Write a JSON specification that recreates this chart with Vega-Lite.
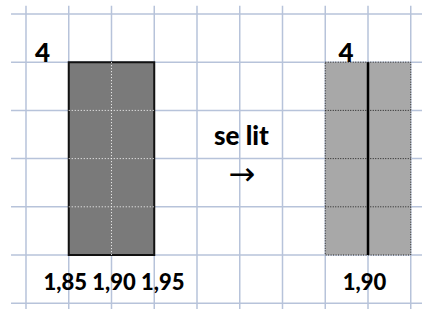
{
  "$schema": "https://vega.github.io/schema/vega-lite/v6.json",
  "width": 422,
  "height": 309,
  "padding": 0,
  "autosize": "none",
  "background": "white",
  "config": {"view": {"stroke": null}},
  "layer": [
    {
      "data": {"values": [{"x": 0}, {"x": 1}, {"x": 2}, {"x": 3}, {"x": 4}, {"x": 5}, {"x": 6}, {"x": 7}, {"x": 8}, {"x": 9}]},
      "mark": {"type": "rule", "color": "#b7c3da", "strokeWidth": 1.5},
      "encoding": {
        "x": {"field": "x", "type": "quantitative", "scale": {"domain": [-0.608, 9.263], "nice": false, "zero": false}, "axis": null},
        "y": {"datum": -0.17, "type": "quantitative", "scale": {"domain": [6.12, -0.29], "nice": false, "zero": false}, "axis": null},
        "y2": {"datum": 6.2}
      }
    },
    {
      "data": {"values": [{"y": 0}, {"y": 1}, {"y": 2}, {"y": 3}, {"y": 4}, {"y": 5}, {"y": 6}]},
      "mark": {"type": "rule", "color": "#b7c3da", "strokeWidth": 1.5},
      "encoding": {
        "y": {"field": "y", "type": "quantitative", "scale": {"domain": [6.12, -0.29], "nice": false, "zero": false}, "axis": null},
        "x": {"datum": -0.35, "type": "quantitative", "scale": {"domain": [-0.608, 9.263], "nice": false, "zero": false}, "axis": null},
        "x2": {"datum": 9.4}
      }
    },
    {
      "data": {"values": [{"x": 1, "x2": 3, "y": 1, "y2": 5}]},
      "mark": {"type": "rect", "fill": "#7a7a7a", "stroke": "#111111", "strokeWidth": 2},
      "encoding": {
        "x": {"field": "x", "type": "quantitative", "scale": {"domain": [-0.608, 9.263], "nice": false, "zero": false}, "axis": null},
        "x2": {"field": "x2"},
        "y": {"field": "y", "type": "quantitative", "scale": {"domain": [6.12, -0.29], "nice": false, "zero": false}, "axis": null},
        "y2": {"field": "y2"}
      }
    },
    {
      "data": {"values": [{"x": 7, "x2": 9, "y": 1, "y2": 5}]},
      "mark": {"type": "rect", "fill": "#a8a8a8", "stroke": "#222222", "strokeWidth": 1, "strokeDash": [1, 1.5]},
      "encoding": {
        "x": {"field": "x", "type": "quantitative", "scale": {"domain": [-0.608, 9.263], "nice": false, "zero": false}, "axis": null},
        "x2": {"field": "x2"},
        "y": {"field": "y", "type": "quantitative", "scale": {"domain": [6.12, -0.29], "nice": false, "zero": false}, "axis": null},
        "y2": {"field": "y2"}
      }
    },
    {
      "data": {"values": [{"y": 2, "x": 1, "x2": 3}, {"y": 3, "x": 1, "x2": 3}, {"y": 4, "x": 1, "x2": 3}]},
      "mark": {"type": "rule", "color": "#ffffff", "strokeWidth": 1, "strokeDash": [1, 2]},
      "encoding": {
        "y": {"field": "y", "type": "quantitative", "scale": {"domain": [6.12, -0.29], "nice": false, "zero": false}, "axis": null},
        "x": {"field": "x", "type": "quantitative", "scale": {"domain": [-0.608, 9.263], "nice": false, "zero": false}, "axis": null},
        "x2": {"field": "x2"}
      }
    },
    {
      "data": {"values": [{"x": 2, "y": 1, "y2": 5}]},
      "mark": {"type": "rule", "color": "#ffffff", "strokeWidth": 1, "strokeDash": [1, 2]},
      "encoding": {
        "x": {"field": "x", "type": "quantitative", "scale": {"domain": [-0.608, 9.263], "nice": false, "zero": false}, "axis": null},
        "y": {"field": "y", "type": "quantitative", "scale": {"domain": [6.12, -0.29], "nice": false, "zero": false}, "axis": null},
        "y2": {"field": "y2"}
      }
    },
    {
      "data": {"values": [{"y": 2, "x": 7, "x2": 9}, {"y": 3, "x": 7, "x2": 9}, {"y": 4, "x": 7, "x2": 9}]},
      "mark": {"type": "rule", "color": "#222222", "strokeWidth": 1, "strokeDash": [1, 1.5]},
      "encoding": {
        "y": {"field": "y", "type": "quantitative", "scale": {"domain": [6.12, -0.29], "nice": false, "zero": false}, "axis": null},
        "x": {"field": "x", "type": "quantitative", "scale": {"domain": [-0.608, 9.263], "nice": false, "zero": false}, "axis": null},
        "x2": {"field": "x2"}
      }
    },
    {
      "data": {"values": [{"x": 8, "y": 1, "y2": 5}]},
      "mark": {"type": "rule", "color": "#000000", "strokeWidth": 2.5},
      "encoding": {
        "x": {"field": "x", "type": "quantitative", "scale": {"domain": [-0.608, 9.263], "nice": false, "zero": false}, "axis": null},
        "y": {"field": "y", "type": "quantitative", "scale": {"domain": [6.12, -0.29], "nice": false, "zero": false}, "axis": null},
        "y2": {"field": "y2"}
      }
    },
    {
      "data": {"values": [
        {"label": "4", "x": 0.385, "y": 0.996},
        {"label": "4", "x": 7.485, "y": 0.996}
      ]},
      "mark": {"type": "text", "font": "Lato", "fontWeight": 900, "fontSize": 26, "color": "#000000", "align": "center", "baseline": "alphabetic"},
      "encoding": {
        "x": {"field": "x", "type": "quantitative", "scale": {"domain": [-0.608, 9.263], "nice": false, "zero": false}, "axis": null},
        "y": {"field": "y", "type": "quantitative", "scale": {"domain": [6.12, -0.29], "nice": false, "zero": false}, "axis": null},
        "text": {"field": "label"}
      }
    },
    {
      "data": {"values": [
        {"label": "se lit", "x": 5.04, "y": 2.718}
      ]},
      "mark": {"type": "text", "font": "Lato", "fontWeight": 900, "fontSize": 26, "letterSpacing": 1, "color": "#000000", "align": "center", "baseline": "alphabetic"},
      "encoding": {
        "x": {"field": "x", "type": "quantitative", "scale": {"domain": [-0.608, 9.263], "nice": false, "zero": false}, "axis": null},
        "y": {"field": "y", "type": "quantitative", "scale": {"domain": [6.12, -0.29], "nice": false, "zero": false}, "axis": null},
        "text": {"field": "label"}
      }
    },
    {
      "data": {"values": [
        {"label": "1,85 1,90 1,95", "x": 2.06, "y": 5.716},
        {"label": "1,90", "x": 7.92, "y": 5.716}
      ]},
      "mark": {"type": "text", "font": "Lato", "fontWeight": 900, "fontSize": 22, "color": "#000000", "align": "center", "baseline": "alphabetic"},
      "encoding": {
        "x": {"field": "x", "type": "quantitative", "scale": {"domain": [-0.608, 9.263], "nice": false, "zero": false}, "axis": null},
        "y": {"field": "y", "type": "quantitative", "scale": {"domain": [6.12, -0.29], "nice": false, "zero": false}, "axis": null},
        "text": {"field": "label"}
      }
    },
    {
      "data": {"values": [{"label": "→", "x": 5.05, "y": 3.33}]},
      "mark": {"type": "text", "font": "DejaVu Sans", "fontSize": 32, "color": "#000000", "align": "center", "baseline": "middle"},
      "encoding": {
        "x": {"field": "x", "type": "quantitative", "scale": {"domain": [-0.608, 9.263], "nice": false, "zero": false}, "axis": null},
        "y": {"field": "y", "type": "quantitative", "scale": {"domain": [6.12, -0.29], "nice": false, "zero": false}, "axis": null},
        "text": {"field": "label"}
      }
    }
  ]
}
